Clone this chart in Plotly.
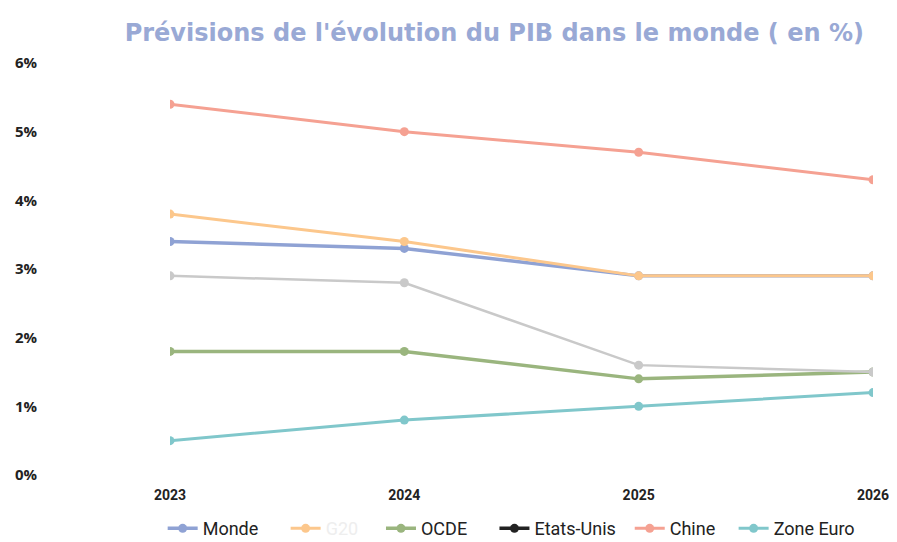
import plotly.graph_objects as go

years = [2023, 2024, 2025, 2026]
year_labels = ["2023", "2024", "2025", "2026"]

monde = [3.4, 3.3, 2.9, 2.9]
g20 = [3.8, 3.4, 2.9, 2.9]
ocde = [1.8, 1.8, 1.4, 1.5]
etats_unis = [2.9, 2.8, 1.6, 1.5]
chine = [5.4, 5.0, 4.7, 4.3]
zone_euro = [0.5, 0.8, 1.0, 1.2]

y_ticks = [0, 1, 2, 3, 4, 5, 6]
y_labels = ["0%", "1%", "2%", "3%", "4%", "5%", "6%"]

NB = "\u00a0"

fig = go.Figure()

def add(name, ys, color, width, legend_color=None):
    if legend_color is None:
        fig.add_trace(go.Scatter(x=years, y=ys, name=name, mode="lines+markers",
                                 line=dict(color=color, width=width),
                                 marker=dict(color=color, size=9)))
    else:
        fig.add_trace(go.Scatter(x=years, y=ys, name=name, mode="lines+markers",
                                 line=dict(color=color, width=width),
                                 marker=dict(color=color, size=9),
                                 legendgroup="g" + str(len(fig.data)), showlegend=False))
        fig.add_trace(go.Scatter(x=[None], y=[None], name=name, mode="lines+markers",
                                 line=dict(color=legend_color, width=width + 1),
                                 marker=dict(color=legend_color, size=9),
                                 legendgroup="g" + str(len(fig.data) - 1), showlegend=True))

add("Monde" + NB * 5, monde, "#8fa2d4", 3.5)
add("<span style='color:#eeeeee'>G20</span>" + NB * 4, g20, "#fcc78c", 3)
add("OCDE" + NB * 5, ocde, "#9ab57e", 3.5)
add("Etats-Unis" + NB * 2, etats_unis, "#c9c9c9", 2.5, legend_color="#222222")
add("Chine" + NB * 3, chine, "#f5a192", 3)
add("Zone Euro", zone_euro, "#80c7cb", 3)

fig.update_layout(
    width=889, height=534,
    paper_bgcolor="white", plot_bgcolor="white",
    margin=dict(l=162, r=24, t=55, b=67, autoexpand=False),
    title=dict(text="<b>Prévisions de l'évolution du PIB dans le monde ( en %)</b>",
               x=0.547, xanchor="center", y=0.953, yanchor="middle",
               font=dict(family="DejaVu Sans", size=24, color="#99a9d5")),
    font=dict(family="Open Sans", color="#222222"),
    xaxis=dict(range=[2023, 2026], tickmode="array", tickvals=years, ticktext=year_labels,
               showgrid=False, zeroline=False, showline=False, automargin=False,
               tickfont=dict(family="Roboto", size=14, color="#222222", weight="bold"),
               ticks="", ticklabelstandoff=10),
    yaxis=dict(range=[0, 6], tickmode="array", tickvals=y_ticks, ticktext=y_labels,
               showgrid=False, zeroline=False, showline=False, automargin=False,
               tickfont=dict(family="Open Sans", size=15, color="#222222", weight="bold"),
               ticks="", ticklabelstandoff=132),
    legend=dict(orientation="h", x=0.566, xref="container", xanchor="center",
                y=0.025, yref="container", yanchor="middle",
                font=dict(family="Roboto", size=18, color="#222222"), tracegroupgap=0),
    showlegend=True,
)

fig.write_html("out.html")
